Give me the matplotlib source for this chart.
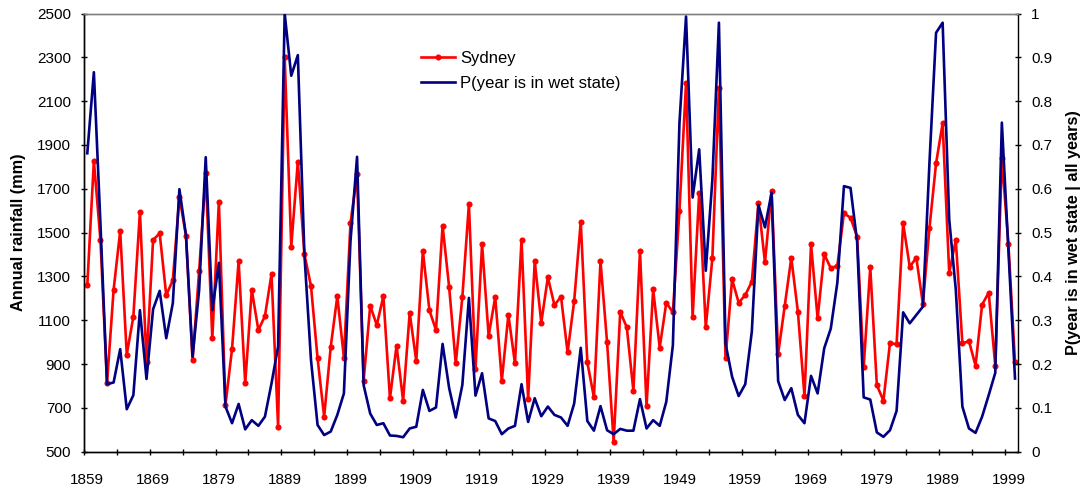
import matplotlib
matplotlib.use("Agg")
import matplotlib.pyplot as plt
import numpy as np

plt.rcParams['font.family'] = ['Liberation Sans', 'DejaVu Sans']

years = list(range(1859, 2001))

sydney_mm = [
    1259, 1827, 1466, 812, 1239, 1507, 943, 1116, 1595, 911,
    1466, 1497, 1214, 1283, 1664, 1486, 918, 1325, 1770, 1017,
    1641, 713, 969, 1370, 812, 1239, 1055, 1119, 1311, 614,
    2300, 1436, 1824, 1401, 1256, 926, 660, 979, 1210, 929,
    1542, 1767, 824, 1166, 1078, 1210, 743, 984, 733, 1134,
    914, 1416, 1145, 1055, 1532, 1250, 903, 1204, 1630, 877,
    1446, 1029, 1206, 824, 1125, 903, 1466, 739, 1370, 1089,
    1296, 1169, 1207, 953, 1188, 1550, 908, 748, 1370, 999,
    546, 1139, 1067, 778, 1416, 708, 1241, 975, 1180, 1136,
    1600, 2184, 1113, 1682, 1067, 1382, 2158, 926, 1287, 1180,
    1215, 1276, 1633, 1364, 1691, 946, 1165, 1385, 1139, 754,
    1446, 1109, 1402, 1337, 1349, 1588, 1568, 1481, 888, 1341,
    804, 733, 997, 990, 1542, 1344, 1385, 1174, 1522, 1816,
    1999, 1317, 1466, 994, 1005, 893, 1171, 1226, 893, 1842,
    1446, 908,
]

p_wet = [
    0.681, 0.866, 0.52, 0.154, 0.158, 0.234, 0.097, 0.129, 0.323, 0.166,
    0.325, 0.367, 0.259, 0.339, 0.599, 0.494, 0.217, 0.369, 0.672, 0.323,
    0.431, 0.103, 0.065, 0.109, 0.051, 0.072, 0.059, 0.080, 0.156, 0.240,
    1.000, 0.858, 0.905, 0.45, 0.209, 0.061, 0.038, 0.046, 0.084, 0.133,
    0.48, 0.673, 0.152, 0.087, 0.061, 0.065, 0.037, 0.036, 0.033, 0.053,
    0.057, 0.141, 0.093, 0.101, 0.246, 0.145, 0.078, 0.152, 0.351, 0.128,
    0.179, 0.076, 0.070, 0.040, 0.053, 0.059, 0.154, 0.068, 0.122, 0.081,
    0.103, 0.084, 0.078, 0.059, 0.110, 0.237, 0.070, 0.048, 0.104, 0.049,
    0.040, 0.052, 0.048, 0.048, 0.120, 0.053, 0.072, 0.059, 0.114, 0.243,
    0.75, 0.993, 0.580, 0.690, 0.413, 0.62, 0.979, 0.247, 0.171, 0.127,
    0.154, 0.274, 0.563, 0.512, 0.591, 0.161, 0.118, 0.145, 0.084, 0.065,
    0.173, 0.133, 0.236, 0.281, 0.386, 0.606, 0.602, 0.48, 0.124, 0.119,
    0.044, 0.034, 0.049, 0.093, 0.318, 0.293, 0.312, 0.331, 0.66, 0.956,
    0.979, 0.53, 0.37, 0.103, 0.053, 0.043, 0.080, 0.129, 0.180, 0.751,
    0.46, 0.167,
]

left_ticks = list(range(500, 2600, 200))
right_ticks = [round(0.1 * k, 1) for k in range(11)]
right_labels = ['0', '0.1', '0.2', '0.3', '0.4', '0.5', '0.6', '0.7', '0.8', '0.9', '1']
label_years = list(range(1859, 2000, 10))

fig = plt.figure(figsize=(10.87, 4.88), dpi=100)
ax = fig.add_axes([84 / 1087, 1 - 451.7 / 488, (1018.3 - 84) / 1087, (451.7 - 13.5) / 488])
ax2 = ax.twinx()

l1, = ax.plot(years, sydney_mm, color='#FF0000', lw=1.9, marker='o', ms=4.4,
              markeredgewidth=0, label='Sydney', zorder=3)
l2, = ax2.plot(years, p_wet, color='#000080', lw=1.9,
               label='P(year is in wet state)', zorder=3)

ax.set_xlim(years[0] - 0.5, years[-1] + 0.5)
ax.set_ylim(500, 2500)
ax2.set_ylim(0, 1)

ax.set_yticks(left_ticks)
ax.set_yticklabels([str(v) for v in left_ticks])
ax2.set_yticks(right_ticks)
ax2.set_yticklabels(right_labels)

major_x = [years[0] - 0.5 + 5 * k for k in range(29)]
ax.set_xticks(major_x)
ax.set_xticklabels([''] * len(major_x))
ax.set_xticks(label_years, minor=True)
ax.set_xticklabels([str(y) for y in label_years], minor=True)
ax.tick_params(axis='x', which='minor', length=0, pad=15, labelsize=11)
ax.tick_params(axis='x', which='major', direction='inout', length=4.5, width=1)
ax.tick_params(axis='y', direction='inout', length=4.5, width=1, labelsize=11, pad=7)
ax2.tick_params(axis='y', direction='inout', length=4.5, width=1, labelsize=11, pad=7)

for a in (ax, ax2):
    a.spines['top'].set_color('#808080')
    a.spines['top'].set_linewidth(1)
    a.spines['left'].set_linewidth(1)
    a.spines['bottom'].set_linewidth(1)
    a.spines['right'].set_linewidth(1)
ax.spines['right'].set_visible(False)

ax.set_ylabel('Annual rainfall (mm)', fontsize=11.7, fontweight='bold', labelpad=8)
ax2.set_ylabel('P(year is in wet state | all years)', fontsize=11.7, fontweight='bold', labelpad=10)

leg = ax2.legend(handles=[l1, l2], loc='upper left', bbox_to_anchor=(0.361, 0.915),
                 frameon=False, fontsize=12, handlelength=2.0, handletextpad=0.35,
                 labelspacing=0.62, borderaxespad=0.0, borderpad=0.0)

fig.savefig('out.png', dpi=100)
